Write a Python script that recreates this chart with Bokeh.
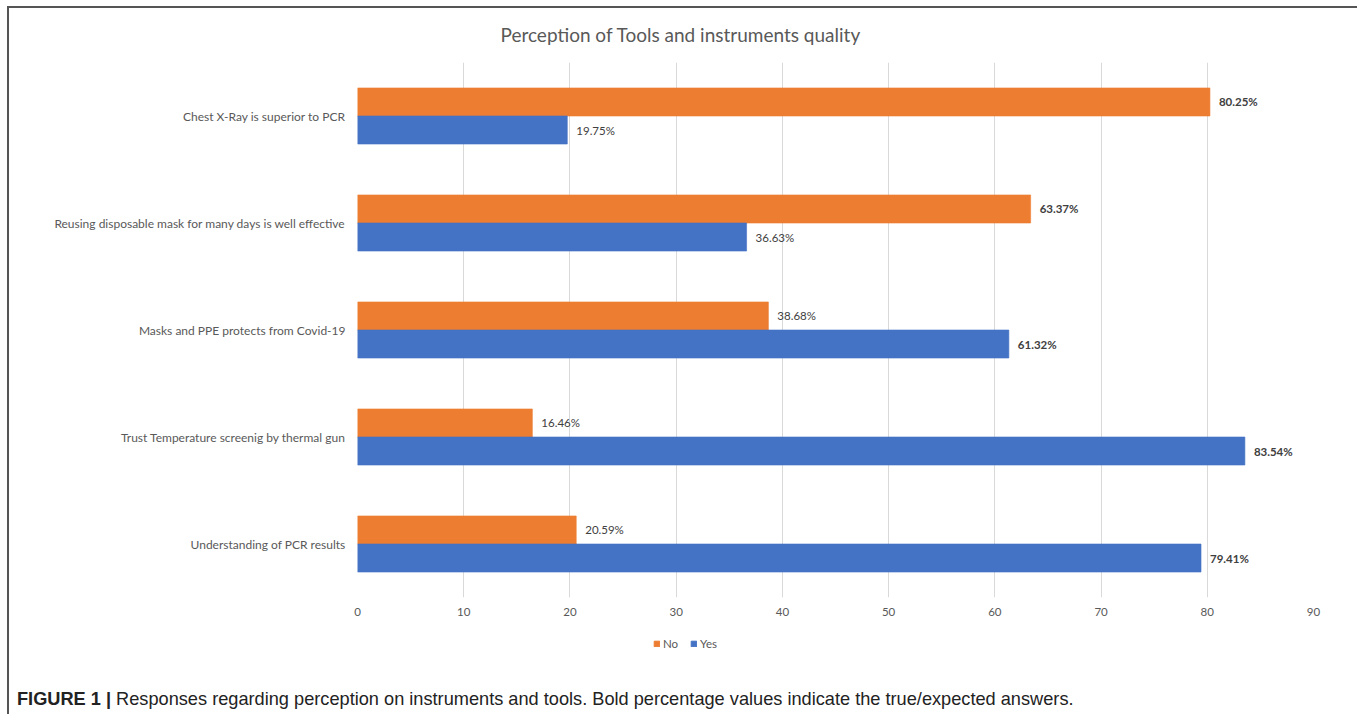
from bokeh.plotting import figure
from bokeh.models import (ColumnDataSource, FactorRange, Range1d, Legend, LegendItem,
                          FixedTicker, Title, Div)
from bokeh.layouts import column
from bokeh.transform import dodge
from bokeh.core.properties import value
from bokeh.embed import file_html
from bokeh.resources import INLINE

# ---- data ----
categories = [
    "Chest X-Ray is superior to PCR",
    "Reusing disposable mask for many days is well effective",
    "Masks and PPE protects from Covid-19",
    "Trust Temperature screenig by thermal gun",
    "Understanding of PCR results",
]
no_values = [80.25, 63.37, 38.68, 16.46, 20.59]
yes_values = [19.75, 36.63, 61.32, 83.54, 79.41]
no_bold = [True, True, False, False, False]
yes_bold = [False, False, True, True, True]
x_ticks = [0, 10, 20, 30, 40, 50, 60, 70, 80, 90]
series_names = ["No", "Yes"]
title_text = "Perception of Tools and instruments quality"
caption_bold = "FIGURE 1 |"
caption_text = "Responses regarding perception on instruments and tools. Bold percentage values indicate the true/expected answers."

ORANGE = "#ED7D31"
BLUE = "#4472C4"
GRAY = "#595959"
FONT = "Lato"

W, H = 1345, 622

src = ColumnDataSource(dict(
    cat=categories,
    no=no_values,
    yes=yes_values,
    no_lbl=[f"{v:.2f}%" for v in no_values],
    yes_lbl=[f"{v:.2f}%" for v in yes_values],
    no_style=["bold" if b else "normal" for b in no_bold],
    yes_style=["bold" if b else "normal" for b in yes_bold],
))

p = figure(width=W, height=H, output_backend="svg", toolbar_location=None, title=None,
           y_range=FactorRange(*list(reversed(categories))),
           x_range=Range1d(0, 90),
           min_border_left=348, min_border_right=41, min_border_top=54, min_border_bottom=33)
p.outline_line_color = None
p.background_fill_color = "white"
p.border_fill_color = "white"

off = 0.131
bh = 0.262
p.hbar(y=dodge("cat", off, range=p.y_range), left=0, right="no", height=bh,
       source=src, fill_color=ORANGE, line_color=ORANGE, line_alpha=0.6)
p.hbar(y=dodge("cat", -off, range=p.y_range), left=0, right="yes", height=bh,
       source=src, fill_color=BLUE, line_color=BLUE, line_alpha=0.6)

p.text(x="no", y=dodge("cat", off, range=p.y_range), text="no_lbl", source=src,
       x_offset=9, text_baseline="middle", text_font=value(FONT), text_font_size="11.5px",
       text_color="#404040", text_font_style="no_style")
p.text(x="yes", y=dodge("cat", -off, range=p.y_range), text="yes_lbl", source=src,
       x_offset=9, text_baseline="middle", text_font=value(FONT), text_font_size="11.5px",
       text_color="#404040", text_font_style="yes_style")

# axes
p.xaxis.ticker = FixedTicker(ticks=x_ticks)
p.xaxis.axis_line_color = None
p.xaxis.major_tick_line_color = None
p.xaxis.major_tick_out = 0
p.xaxis.major_tick_in = 0
p.xaxis.minor_tick_line_color = None
p.xaxis.major_label_standoff = 10
p.xaxis.major_label_text_font = FONT
p.xaxis.major_label_text_font_size = "11.5px"
p.xaxis.major_label_text_color = GRAY

p.yaxis.axis_line_color = None
p.yaxis.major_tick_line_color = None
p.yaxis.major_tick_out = 0
p.yaxis.major_tick_in = 0
p.yaxis.minor_tick_line_color = None
p.yaxis.major_label_standoff = 12
p.yaxis.major_label_text_font = FONT
p.yaxis.major_label_text_font_size = "12px"
p.yaxis.major_label_text_color = GRAY

p.xgrid.grid_line_color = "#D9D9D9"
p.ygrid.grid_line_color = None

# title
p.add_layout(Title(text=title_text, align="left", offset=143, standoff=29,
                   vertical_align="top", text_font=FONT, text_font_size="19px",
                   text_font_style="normal", text_color=GRAY), "above")

# legend strip: its own small figure, with hidden copies of the two bar series
lg = figure(width=W, height=26, output_backend="svg", toolbar_location=None, title=None,
            x_axis_location=None, y_axis_location=None,
            y_range=FactorRange(*list(reversed(categories))), x_range=Range1d(0, 90),
            min_border_left=348, min_border_right=41, min_border_top=0, min_border_bottom=0)
lg.outline_line_color = None
lg.xgrid.visible = False
lg.ygrid.visible = False
sw_no = lg.hbar(y="cat", left=0, right="no", height=bh, source=src,
                fill_color=ORANGE, line_color=ORANGE, visible=False)
sw_yes = lg.hbar(y="cat", left=0, right="yes", height=bh, source=src,
                 fill_color=BLUE, line_color=BLUE, visible=False)
legend = Legend(items=[LegendItem(label=series_names[0], renderers=[sw_no]),
                       LegendItem(label=series_names[1], renderers=[sw_yes])],
                orientation="horizontal", location=(296, 6),
                glyph_width=7, glyph_height=7, label_text_font=FONT,
                label_text_font_size="11.5px", label_text_color=GRAY,
                label_standoff=3, spacing=7, padding=0, margin=0,
                inactive_fill_alpha=0,
                border_line_color=None, background_fill_alpha=0, label_height=14)
lg.add_layout(legend, "center")

caption = Div(
    text=('<div style="padding:28px 0 0 3px; font-family:\'Liberation Sans\'; font-size:18.2px; '
          'line-height:20px; color:#222222; white-space:nowrap;">'
          f'<b>{caption_bold}</b> {caption_text}</div>'),
    width=W, height=48)

layout = column(p, lg, caption, margin=(6, 0, 0, 7), spacing=0,
                styles={"border": "2px solid #555555", "border-bottom": "none"})

open("out.html", "w").write(file_html(layout, INLINE))
